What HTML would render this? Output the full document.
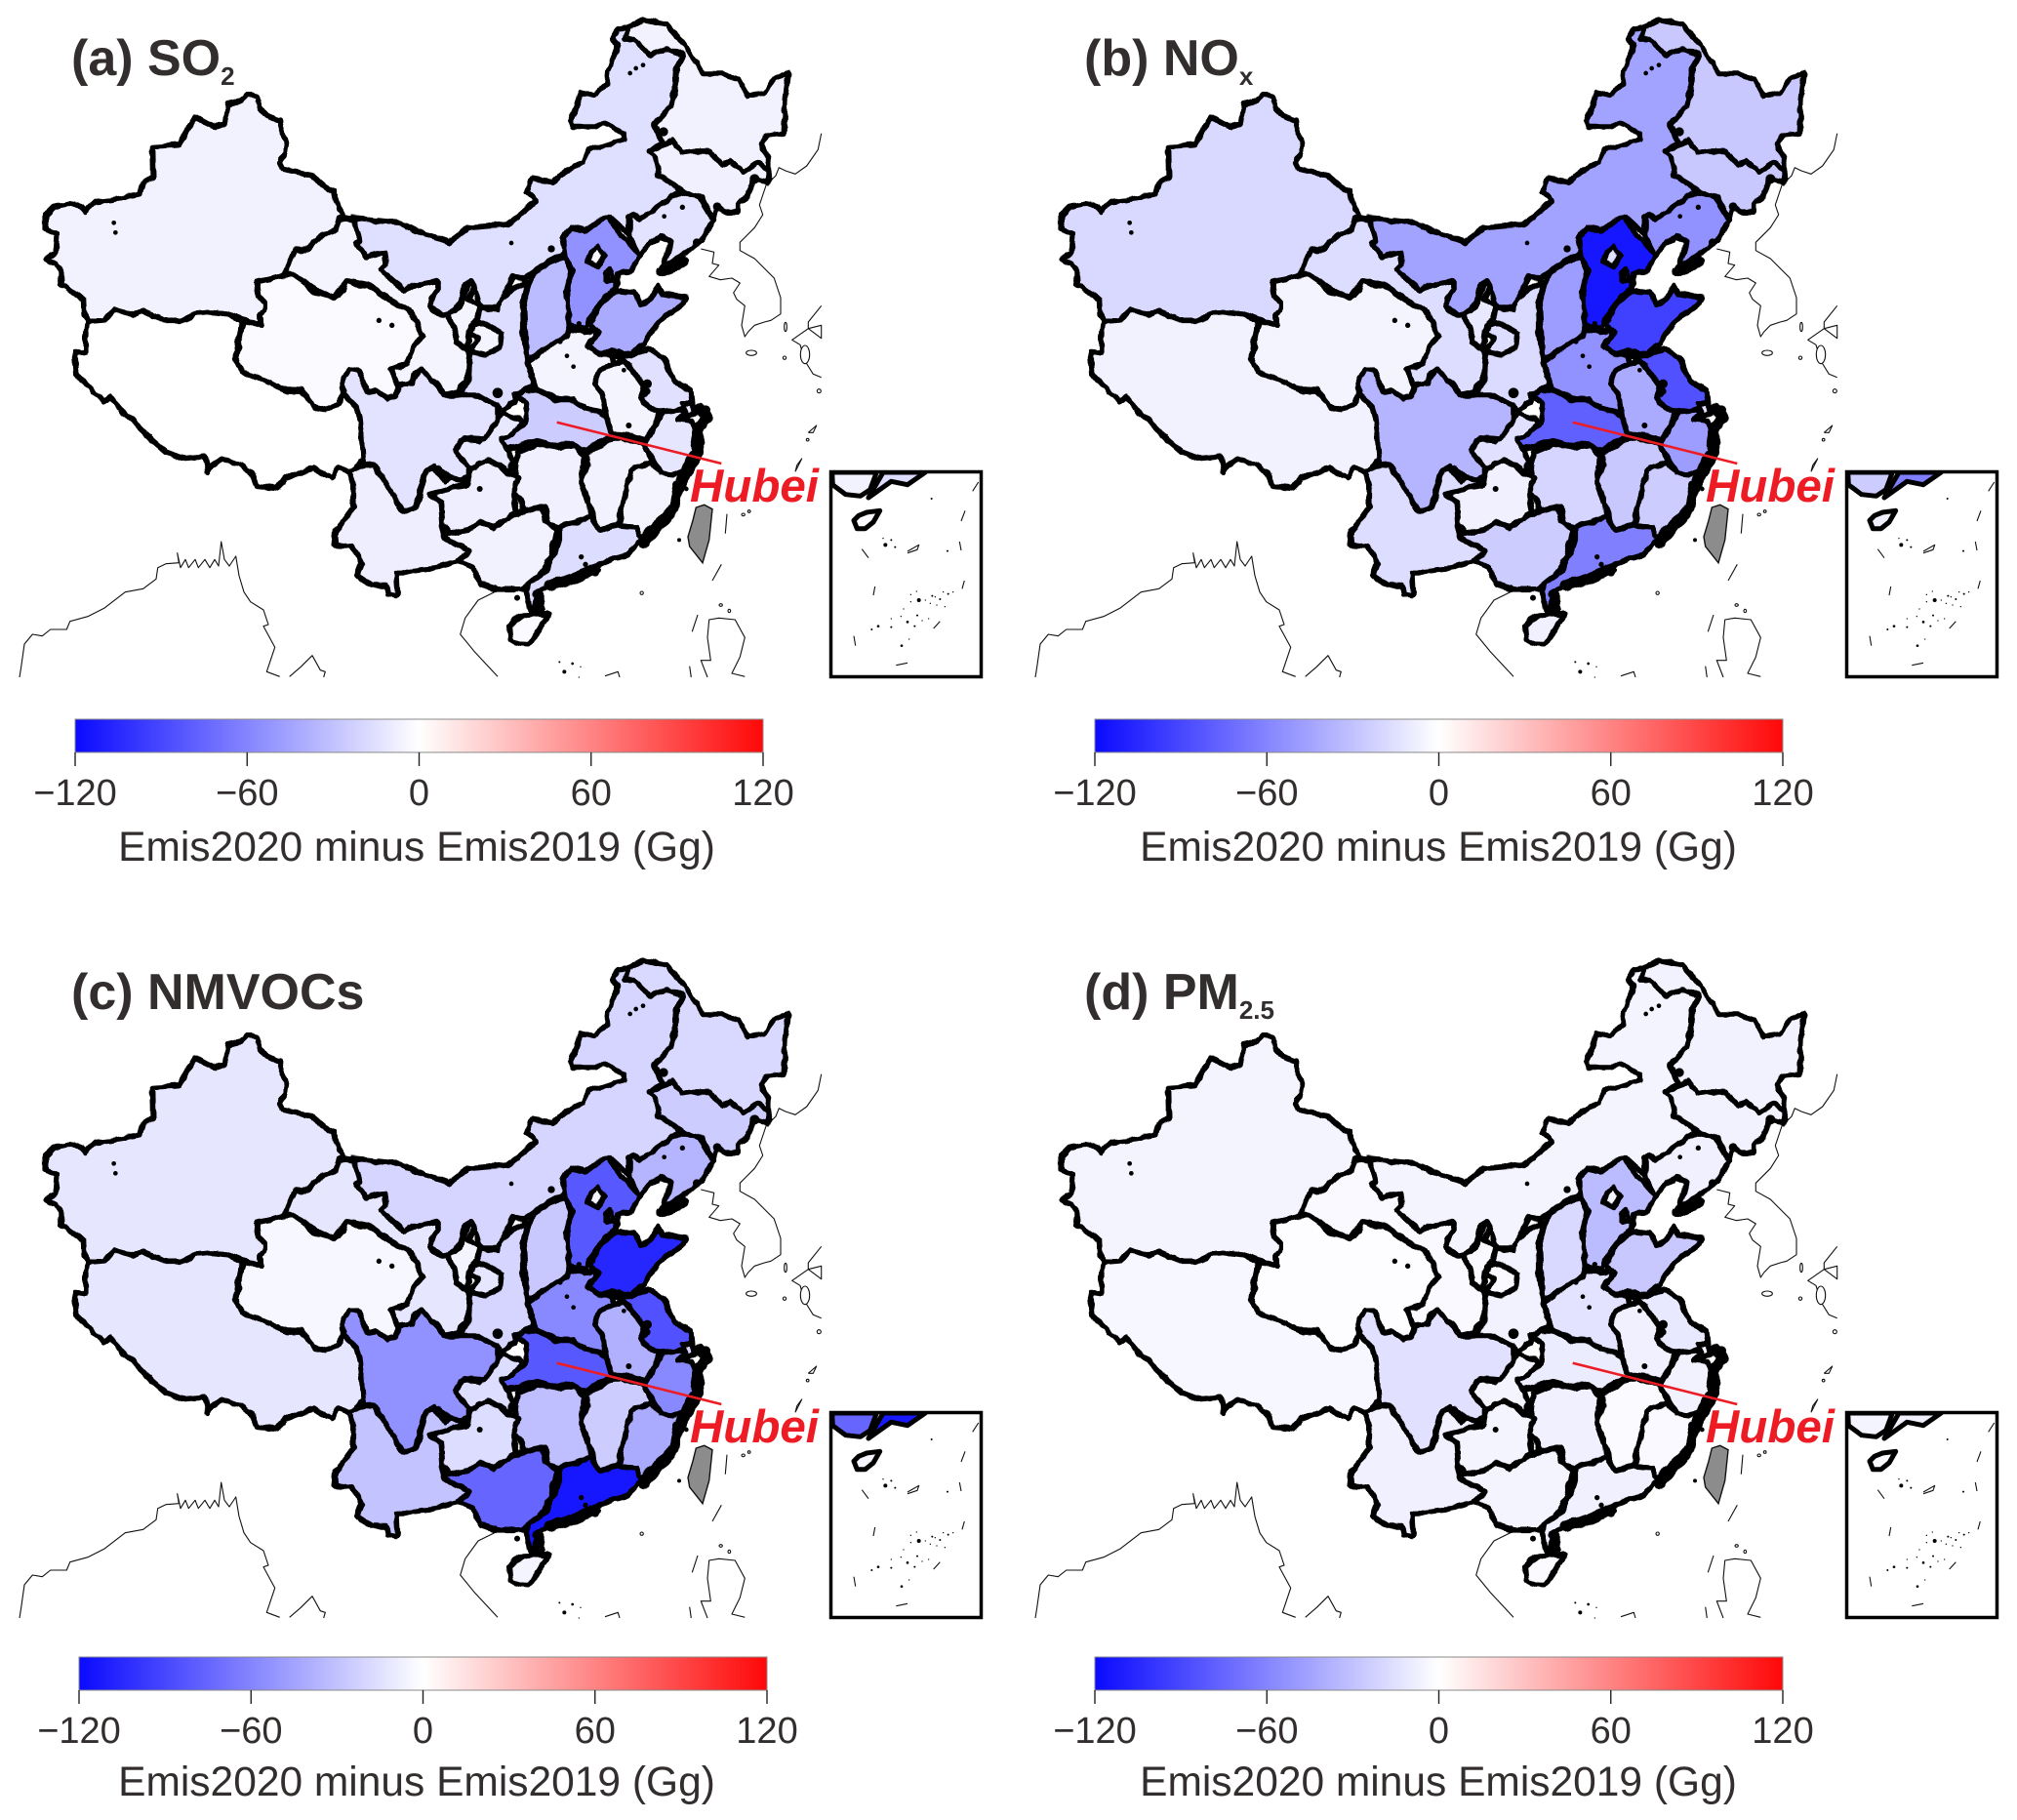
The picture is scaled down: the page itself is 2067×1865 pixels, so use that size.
<!DOCTYPE html>
<html lang="en">
<head>
<meta charset="utf-8">
<title>Emission change maps</title>
<style>
html,body{margin:0;padding:0;background:#fff;}
svg{display:block;}
text{font-family:"Liberation Sans","DejaVu Sans",sans-serif;}
</style>
</head>
<body>
<svg id="figure" xmlns="http://www.w3.org/2000/svg" width="2067" height="1865" viewBox="0 0 2067 1865">
<defs>
<linearGradient id="bwr" x1="0" x2="1" y1="0" y2="0">
<stop offset="0" stop-color="#0a0aff"/><stop offset="0.5" stop-color="#ffffff"/><stop offset="1" stop-color="#ff0808"/>
</linearGradient>
<clipPath id="inset-clip"><rect x="850" y="482" width="157" height="213"/></clipPath>
<filter id="rough" x="-3%" y="-3%" width="106%" height="106%">
<feTurbulence type="fractalNoise" baseFrequency="0.085" numOctaves="2" seed="4" result="n"/>
<feDisplacementMap in="SourceGraphic" in2="n" scale="5" xChannelSelector="R" yChannelSelector="G"/>
</filter>
</defs>
</svg>
<script>
// ---- chart data (Gg change per province) ----
const provinceNames = ['xinjiang','tibet','qinghai','gansu','inner-mongolia','heilongjiang','jilin','liaoning','hebei','beijing','tianjin','shanxi','shandong','henan','shaanxi','ningxia','hubei','hunan','jiangxi','anhui','jiangsu','zhejiang','shanghai','fujian','guangdong','guangxi','guizhou','chongqing','sichuan','yunnan','hainan'];
const so2Values   = [-6,0,-2,-5,-15,-6,-7,-13,-52,-3,-8,-32,-40,-5,-16,-5,-24,-7,-6,-5,-14,-12,-10,-5,-16,-6,-8,-11,-13,-8,-2];
const noxValues   = [-18,-6,-5,-16,-44,-26,-26,-52,-110,-14,-14,-46,-90,-52,-17,-11,-75,-20,-26,-40,-82,-46,-14,-24,-60,-24,-7,-14,-35,-16,-7];
const nmvocValues = [-12,-12,-4,-12,-20,-18,-24,-35,-78,-5,-5,-26,-101,-56,-20,-5,-78,-30,-24,-37,-82,-56,-20,-40,-108,-72,-16,-16,-52,-28,-5];
const pm25Values  = [-5,-4,-1,-3,-5,-6,-6,-7,-32,-5,-5,-18,-26,-13,-6,-3,-9,-7,-2,-7,-11,-6,-5,-3,-7,-5,-5,-5,-14,-7,-2];
const colorbarTicks = [-120,-60,0,60,120];
const colorbarLimit = 120;
const panelTitles = ['(a) SO','(b) NO','(c) NMVOCs','(d) PM'];
const panelSubscripts = ['2','x','','2.5'];
const panelValues = [so2Values,noxValues,nmvocValues,pm25Values];
const axisTitle = 'Emis2020 minus Emis2019 (Gg)';
const calloutLabel = 'Hubei';

// ---- map geometry ----
const WIN={w1:[0,0],w2:[500,0],w3:[0,340],w4:[500,340],w6:[459,250],w7:[259,200],w8:[329,400]};
function L(w,s){return s.trim().split(/\s+/).map(p=>{const a=p.split(',').map(Number);return [WIN[w][0]+a[0]/3,WIN[w][1]+a[1]/3];});}
const provinceShapes={
xinjiang:[L('w1','765,290 790,295 795,325 820,355 860,370 870,410 880,440 875,470 860,500 870,520 920,530 960,540 1000,575 1025,590 1040,640 1055,665 1040,680 1035,705 1000,720 965,745 945,768 910,770 895,815 880,845 790,865 795,905 815,935 815,955 795,965 805,1000 750,985 700,965 650,960 600,965 570,985 510,985 470,970 440,955 405,970 350,950 320,985 270,985 260,970 258,920 200,880 185,875 190,840 170,810 140,795 170,780 175,720 140,705 140,660 165,635 210,625 240,630 262,648 290,620 340,615 430,598 440,560 470,545 468,450 550,445 600,360 625,375 665,390 690,380 700,320 745,310')],
tibet:[L('w1','270,990 320,985 350,950 405,970 440,955 470,970 510,985 570,985 600,965 650,960 700,965 745,985').concat(L('w3','725,80 745,125 800,145 880,180 930,180 965,230 1000,240 1040,225 1055,190 1095,230 1105,265 1110,310 1115,390 1095,420 1075,430 1040,415 1020,450 960,420 880,450 850,480 790,475 770,430 740,410 685,390 650,410 640,430 630,385 570,390 510,370 470,335 420,285 375,245 340,200 320,215 275,170 235,130 230,60 265,65 265,0'))],
qinghai:[L('w1','790,865 880,845 900,845 950,880 965,895 1030,915 1055,895 1065,860 1105,880 1130,875 1180,910 1215,915 1270,970 1290,1010 1300,1040').concat(L('w3','1270,60 1255,100 1200,115 1230,160 1215,200 1190,205 1155,180 1130,185 1100,120 1075,115 1055,140 1055,190 1040,225 1000,240 965,230 930,180 880,180 800,145 745,125 725,80 740,0'),L('w1','750,985 805,1000 795,965 815,955 815,935 795,905'))],
gansu:[L('w7','280,70 310,75 330,140 320,145 350,190 405,175 410,215 395,230 440,270 470,295 500,275 570,262 570,290 545,325 545,340 580,370 600,370 625,430 625,450 660,475 665,500 660,570 640,590 635,605 590,615 575,590 520,540 495,550 490,580 450,590 425,535 470,520 495,465 520,430 490,360 420,320 355,275 290,262 250,315 175,280 125,245 100,240 130,170 175,165 215,120 255,110 265,70'),L('w6','80,245 115,245 165,275 160,320 115,340 70,330 90,290 65,270')],
'inner-mongolia':[L('w1','1085,670 1180,680 1230,685 1280,710 1380,745 1440,700 1500,695').concat(L('w2','0,695 60,690 100,660 150,615 120,590 135,550 200,560 240,525 290,500 310,460 420,430 415,410 360,375 330,390 260,390 255,375 285,285 325,295 365,260 370,220 400,135 385,120 400,90 430,85 420,120 450,120 495,170 550,150 600,170 580,210 575,280 560,330 510,380 540,430 495,465 515,480 525,540 560,550 590,590 545,620 465,675 445,660 435,665 435,720 375,665 340,680 300,710 255,700 230,730 240,780 200,790 150,830'),L('w7','835,255 800,250 770,310 755,345 700,345 680,280 670,262 650,280 640,330 625,355 600,370 580,370 545,340 545,325 570,290 570,262 500,275 470,295 440,270 395,230 410,215 405,175 350,190 320,145 330,140 310,75'))],
heilongjiang:[L('w2','430,85 480,60 550,75 590,120 640,190 660,225 720,225 770,245 800,295 850,285 880,240 925,222 915,300 910,410 860,415 840,440 865,500 865,520 830,500 785,530 745,495 720,505 680,465 630,465 600,470 565,430 540,445 510,385 560,330 575,280 580,210 600,170 550,150 495,170 450,120 420,120')],
jilin:[L('w2','495,465 540,445 565,430 600,470 630,465 680,465 720,505 745,495 785,530 830,500 865,520 860,560 820,550 800,600 770,625 770,650 730,650 705,635 695,680 660,610 650,605 600,590 575,570 525,540 515,480')],
liaoning:[L('w2','590,590 650,605 695,680 650,745 610,775 560,810 530,840 555,770 560,745 530,725 490,760 460,790 435,720 435,665 445,660 465,675 545,620')],
hebei:[L('w2','370,665 410,725 435,745 465,785 440,835 400,840 395,885 360,910 320,970 300,1010 250,1000 240,900 260,830 240,790 230,730 255,700 300,710 340,680')],
beijing:[L('w2','340,755 360,790 335,820 305,805 320,770')],
tianjin:[L('w2','375,825 385,860 365,865 365,835')],
shanxi:[L('w2','240,790 260,830 240,900 250,1000 240,1050 120,1105 110,930 140,840 200,800')],
shandong:[L('w2','400,895 450,900 470,935 500,920 525,875 535,905 610,915 595,940 545,970 510,1010 480,1060 440,1085 380,1075 345,1090 305,1065 340,1020 315,1000 345,935')],
henan:[L('w4','115,95 240,10 250,-5 300,0 335,-5 340,0 305,45 345,70 380,70 385,100 345,115 325,160 350,185 365,235 375,290 345,245 300,235 265,210 210,205 150,175')],
shaanxi:[L('w6','245,115 195,140 165,170 150,200 100,195 85,240 115,245 165,275 160,320 115,340 70,330 65,420 40,450 35,465 100,475 150,495 165,515 210,480 205,465 250,440 265,435 245,360 230,270 230,180')],
ningxia:[L('w7','670,262 660,280 645,330 625,355 600,370 625,430 625,450 660,475 670,400 690,385 700,340 665,320 680,280')],
hubei:[L('w4','110,180 150,180 210,210 265,210 300,235 345,245 365,265 385,315 365,330 300,365 265,345 215,350 150,335 100,350 50,365 35,320 90,300 115,280 120,220 90,200')],
hunan:[L('w4','90,370 150,345 215,355 270,350 300,380 285,460 310,530 315,570 240,590 220,600 185,590 175,535 110,550 95,510 70,490 85,440')],
jiangxi:[L('w4','300,375 370,335 410,325 480,345 505,400 440,425 425,490 400,595 340,610 325,570 310,530 285,460 305,410')],
anhui:[L('w4','345,115 385,100 420,90 445,120 480,170 470,205 495,235 530,245 510,300 490,335 445,320 405,315 380,315 365,265 350,185 325,160')],
jiangsu:[L('w4','495,50 540,80 570,150 625,180 630,230 580,240 530,245 495,235 470,205 490,180 480,165 445,120 420,90 380,70 440,75')],
zhejiang:[L('w4','540,245 590,240 610,250 585,270 630,275 640,300 630,350 640,370 615,390 600,430 570,440 530,435 510,400 480,345 510,300')],
shanghai:[L('w6','720,490 750,490 760,520 735,530')],
fujian:[L('w4','505,400 530,435 570,440 600,430 590,460 570,480 575,530 530,590 490,610 470,640 455,600 400,595 425,490 440,425')],
guangdong:[L('w4','220,600 315,570 340,610 400,595 455,600 470,640 430,685 385,700 330,720 260,760 190,780 145,805 165,855 130,860 118,795 130,770 180,735 220,640')],
guangxi:[L('w8','390,440 450,430 490,405 530,420 570,400 610,375 680,360 690,400 725,430 705,510 670,570 620,610 540,610 490,595 470,545 420,525 455,495 410,470 375,450')],
guizhou:[L('w8','335,320 350,315 420,295 450,290 460,240 515,215 550,230 580,260 605,270 590,320 600,370 570,400 530,420 490,405 450,430 395,440 375,410 370,345')],
chongqing:[L('w8','415,180 440,150 490,155 540,85 560,70 610,90 620,100 575,145 555,150 590,220 580,260 550,230 515,215 460,240 425,220')],
sichuan:[L('w3','1075,115 1100,120 1130,185 1155,180 1190,205 1215,200 1230,165 1265,160 1275,135 1295,115 1350,170 1365,195 1410,195 1470,195 1530,230 1530,270 1490,330 1425,325 1400,365 1440,420 1440,445 1400,465 1350,420 1310,430 1290,490 1280,540 1240,555 1180,460 1140,405 1120,420 1115,390 1110,310 1105,265 1095,230 1055,190 1055,140')],
yunnan:[L('w8','135,230 160,225 215,310 250,370 290,360 300,330 325,245 345,235 380,280 400,270 445,280 420,295 335,320 370,345 375,410 375,450 410,470 455,495 420,525 355,545 270,555 230,565 235,630 205,625 200,600 155,600 110,570 125,530 95,480 40,475 45,430 75,395 100,360 100,290 85,245 115,240')],
hainan:[L('w4','65,905 85,885 110,870 150,868 190,868 170,895 150,930 125,962 90,960 70,945')]
};
const insetShapes={
guangxi:[L('w4','1058,432 1195,432 1175,485 1145,505 1100,500 1060,470')],
guangdong:[L('w4','1215,432 1345,432 1290,470 1240,460 1170,510')],
hainan:[L('w4','1125,580 1140,565 1165,555 1205,550 1185,585 1160,605 1135,605')]
};
const thickCoast=[
L('w4','650,235 675,262 645,300 648,370 618,420 585,480 572,540 530,590 480,650'),
L('w4','330,730 260,760 190,780'),
L('w2','535,835 600,805'),
L('w4','160,815 150,850')
];
const thinLines=[
L('w2','1025,410 1015,460 980,510 945,535 915,525 895,515 885,540 855,570 835,630 845,660 820,700 775,745 775,770 820,795 880,855 900,915 900,965 870,985 850,990 820,1000 800,1020 790,1035 780,1000 790,940 765,920 755,900 775,870 750,855 715,860 680,850 710,815 690,810 695,775 655,765'),
L('w2','1025,940 985,990 985,1010 1025,1000 1025,1040 985,1010 935,1045 960,1060 975,1110 1000,1150 1025,1160'),
L('w3','60,1062 65,1030 75,960 100,930 130,935 155,915 205,915 215,890 270,875 320,850 385,800 440,790 480,760 485,725 510,713 550,710 545,680 555,725 570,700 580,725 600,700 610,725 630,700 645,725 660,700 672,720 680,645 690,700 705,720 725,690 735,750 750,800 770,830 810,855 825,900 810,905 845,970 820,1045 860,1060'),
L('w3','890,1060 925,1030 960,995 985,1040 1000,1045 995,1062'),
L('w3','1520,800 1470,825 1430,880 1415,930 1460,985 1530,1060'),
L('w4','625,1062 620,1028'),L('w4','735,560 730,620'),L('w4','718,715 690,765'),L('w4','645,870 628,922'),
L('w4','675,1062 655,1010 685,1010 675,940 680,885 710,880 760,885 790,940 775,1000 750,1050 790,1060'),
L('w4','360,1058 400,1045 405,1062'),
L('w4','985,310 1010,288 1000,310 985,310'),
L('w4','945,430 965,390 950,410 945,430'),
L('w4','1150,668 1170,695'),L('w4','1190,783 1185,810'),L('w4','1125,935 1130,965'),L('w4','1255,1025 1290,1018'),L('w4','1370,912 1390,890'),L('w4','1458,790 1465,765'),L('w4','1450,645 1455,672'),L('w4','1455,582 1467,550'),L('w4','1490,490 1508,462'),
L('w4','1290,675 1325,655 1320,670 1290,680')
];
const blackDots=[
['w1',350,685,7],['w1',355,715,7],['w1',1165,985,8],['w1',1205,1000,8],
['w2',437,225,7],['w2',455,210,7],['w2',477,200,7],['w2',72,747,7],['w2',195,765,11],['w2',598,637,8],['w2',542,665,7],['w2',280,995,8],['w2',222,1050,8],
['w2',540,405,14],['w2',820,550,15],['w2',705,635,13],['w2',642,745,12],['w2',540,825,14],['w2',595,805,12],
['w4',243,74,7],['w4',263,107,7],['w4',418,118,7],['w4',490,160,14],['w4',433,288,9],['w4',287,692,8],['w4',90,818,9],['w4',610,483,7],['w4',30,188,16],
['w3',1475,483,9],['w4',300,715,8],['w4',330,740,12],['w4',670,240,14],['w4',680,265,12],['w4',650,300,13],['w4',655,340,12],['w4',625,395,12],['w4',580,470,13],['w4',575,520,12],
['w4',588,640,6],['w4',220,1015,3],['w4',235,1045,6],['w4',260,1020,4],['w4',285,1030,2],['w4',280,1062,2],
['w4',1364,513,3],['w4',1413,674,3],['w4',1222,655,6],['w4',1240,640,3],['w4',1215,635,2],['w4',1252,662,3],['w4',1325,825,6],['w4',1318,798,2],['w4',1366,812,3],['w4',1390,822,3],['w4',1400,800,2],['w4',1415,806,3],['w4',1380,840,2],['w4',1405,845,2],['w4',1345,825,2],['w4',1360,835,2],['w4',1375,815,2],['w4',1430,800,2],['w4',1300,808,2],['w4',1278,852,2],['w4',1290,892,4],['w4',1200,905,4],['w4',1180,915,3],['w4',1240,908,3],['w4',1270,875,2],['w4',1240,882,2],['w4',1320,872,3],['w4',1355,882,2],['w4',1312,905,3],['w4',1272,965,4],['w4',1300,830,2],['w4',1295,945,2],['w4',1335,888,2]
];
const seaRings=[
['w2',810,1085,16,8],['w2',915,1005,4,14],['w2',912,1100,5,5],['w4',1018,182,6,6],['w4',983,332,4,4],['w4',785,562,5,4],['w4',803,552,4,4],['w4',473,803,5,5],['w4',716,840,5,4],['w4',742,858,4,5],['w2',975,1090,14,28]
];
const taiwanShape=L('w4','640,540 665,532 690,545 680,640 660,710 620,660 615,630 630,580');
const calloutLine=L('w4','212,278 718,405');
const panelOffsets=[[0,0],[1041,0],[0,964],[1041,964]];
const barLefts=[77,1122,81,1122];
const barTops=[737,737,1698,1698];
const barWidth=705, barHeight=34;
const titleBaselines=[77,77,1034,1034];
const titleXs=[73,1111,73,1111];
const tickBaselines=[825,825,1786,1786];
const labelBaselines=[882,882,1840,1840];
const labelCenters=[427,1474,427,1474];

const NS='http://www.w3.org/2000/svg';
const svg=document.getElementById('figure');
function add(parent,tag,attrs,text){const e=document.createElementNS(NS,tag);for(const k in attrs)e.setAttribute(k,attrs[k]);if(text!==undefined)e.textContent=text;parent.appendChild(e);return e;}
function pathOf(loops){return loops.map(l=>'M'+l.map(p=>p[0].toFixed(1)+' '+p[1].toFixed(1)).join('L')+'Z').join('');}
function lineOf(l){return 'M'+l.map(p=>p[0].toFixed(1)+' '+p[1].toFixed(1)).join('L');}
function bwr(v){const t=Math.max(-1,Math.min(1,v/colorbarLimit));const c=Math.round(255*(1-Math.abs(t)));return t<0?`rgb(${c},${c},255)`:`rgb(255,${c},${c})`;}
function barX(tick,left){return left+(tick+colorbarLimit)/(2*colorbarLimit)*barWidth;}
function tickText(t){return t<0?'\u2212'+Math.abs(t):String(t);}

panelValues.forEach((values,pi)=>{
  const off=panelOffsets[pi];
  const g=add(svg,'g',{transform:`translate(${off[0]},${off[1]})`});
  
  
  thinLines.forEach(l=>{
    const e=add(g,'path',{d:lineOf(l),fill:'none',stroke:'#111','stroke-width':1.1,'stroke-linejoin':'round'});
    
    
  });
  seaRings.forEach(r=>{
    const e=add(g,'ellipse',{cx:WIN[r[0]][0]+r[1]/3,cy:WIN[r[0]][1]+r[2]/3,rx:r[3]/3,ry:r[4]/3,fill:'#fff',stroke:'#111','stroke-width':1.1});
    
    
  });
  const tw=add(g,'path',{d:pathOf([taiwanShape]),fill:'#8c8c8c',stroke:'#111','stroke-width':1.4});
  
  
  const rough=add(g,'g',{filter:'url(#rough)'});
  
  
  provinceNames.forEach((name,i)=>{
    const e=add(rough,'path',{d:pathOf(provinceShapes[name]),fill:bwr(values[i]),stroke:'#000','stroke-width':5.6,'stroke-linejoin':'round'});
    
    
  });
  thickCoast.forEach(l=>{
    const e=add(rough,'path',{d:lineOf(l),fill:'none',stroke:'#000','stroke-width':11,'stroke-linejoin':'round','stroke-linecap':'round'});
    
    
  });
  blackDots.forEach(d=>{
    const e=add(g,'circle',{cx:WIN[d[0]][0]+d[1]/3,cy:WIN[d[0]][1]+d[2]/3,r:d[3]/3,fill:'#000'});
    
    
  });
  const ig=add(g,'g',{'clip-path':'url(#inset-clip)'});
  
  
  Object.keys(insetShapes).forEach(name=>{
    const e=add(ig,'path',{d:pathOf(insetShapes[name]),fill:bwr(values[provinceNames.indexOf(name)]),stroke:'#000','stroke-width':5,'stroke-linejoin':'round'});
    
    
  });
  const frame=add(g,'rect',{x:851.5,y:483.5,width:154,height:210,fill:'none',stroke:'#000','stroke-width':3.5});
  
  
  const cl=add(g,'path',{d:lineOf(calloutLine),fill:'none',stroke:'#ed1c24','stroke-width':2.6});
  
  
  const ct=add(g,'text',{x:707,y:514,fill:'#ed1c24','font-size':47.5,'font-weight':'bold','font-style':'italic'},calloutLabel);
  
  

  const title=add(svg,'text',{x:titleXs[pi],y:titleBaselines[pi],fill:'#332e2e','font-size':52,'font-weight':'bold'});
  
  
  add(title,'tspan',{},panelTitles[pi]);
  if(panelSubscripts[pi]) add(title,'tspan',{dy:10,'font-size':26},panelSubscripts[pi]);

  const bl=barLefts[pi], bt=barTops[pi];
  const bar=add(svg,'rect',{x:bl,y:bt,width:barWidth,height:barHeight,fill:'url(#bwr)',stroke:'#8a8a8a','stroke-width':1});
  
  
  colorbarTicks.forEach(t=>{
    const x=barX(t,bl);
    const tm=add(svg,'line',{x1:x,x2:x,y1:bt+barHeight,y2:bt+barHeight+14,stroke:'#222','stroke-width':1.4});
    
    
    const tl=add(svg,'text',{x:x,y:tickBaselines[pi],fill:'#332e2e','font-size':38,'text-anchor':'middle'},tickText(t));
    
    
  });
  const at=add(svg,'text',{x:labelCenters[pi],y:labelBaselines[pi],fill:'#332e2e','font-size':42.5,'text-anchor':'middle'},axisTitle);
  
  
});
</script>
</body>
</html>
